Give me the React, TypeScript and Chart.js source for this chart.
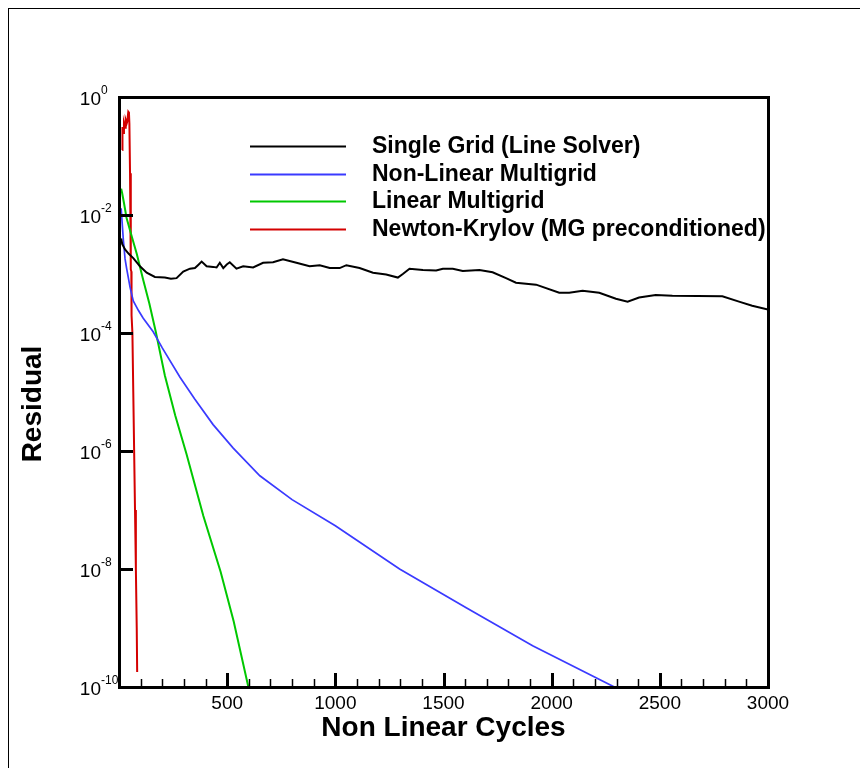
import React, { useEffect, useRef } from 'react';
import { Chart, registerables } from 'chart.js';

Chart.register(...registerables);

// ---------- data ----------
const singleGridIter = [10, 15, 28, 45, 66, 97, 128, 166, 212, 240, 266, 297, 328, 351, 365, 382, 405, 435, 451, 466, 482, 498, 512, 543, 574, 620, 666, 712, 758, 820, 881, 928, 974, 1020, 1051, 1112, 1174, 1235, 1289, 1312, 1343, 1405, 1466, 1497, 1543, 1589, 1666, 1727, 1789, 1835, 1928, 2035, 2081, 2143, 2220, 2297, 2351, 2404, 2481, 2558, 2789, 2866, 2927, 3000];
const singleGridResidual = [4.0e-3, 3.2e-3, 2.6e-3, 2.2e-3, 1.86e-3, 1.35e-3, 1.05e-3, 8.9e-4, 8.7e-4, 8.3e-4, 8.5e-4, 1.1e-3, 1.23e-3, 1.26e-3, 1.41e-3, 1.62e-3, 1.35e-3, 1.32e-3, 1.29e-3, 1.55e-3, 1.26e-3, 1.45e-3, 1.58e-3, 1.23e-3, 1.35e-3, 1.29e-3, 1.55e-3, 1.58e-3, 1.78e-3, 1.55e-3, 1.35e-3, 1.41e-3, 1.26e-3, 1.26e-3, 1.41e-3, 1.26e-3, 1.05e-3, 9.8e-4, 8.7e-4, 1.0e-3, 1.23e-3, 1.17e-3, 1.15e-3, 1.23e-3, 1.23e-3, 1.12e-3, 1.17e-3, 1.07e-3, 8.5e-4, 7.1e-4, 6.6e-4, 4.8e-4, 4.8e-4, 5.2e-4, 4.8e-4, 3.8e-4, 3.4e-4, 4.0e-4, 4.4e-4, 4.3e-4, 4.2e-4, 3.4e-4, 2.9e-4, 2.5e-4];

const nonLinearMGIter = [10, 14, 20, 28, 35, 51, 66, 90, 112, 158, 200, 282, 350, 435, 528, 651, 800, 1000, 1297, 1605, 1912, 2290];
const nonLinearMGResidual = [1.3e-2, 7.9e-3, 3.8e-3, 1.8e-3, 1.26e-3, 6.0e-4, 3.5e-4, 2.4e-4, 1.78e-4, 1.05e-4, 5.6e-5, 1.78e-5, 7.6e-6, 2.8e-6, 1.12e-6, 3.8e-7, 1.5e-7, 5.4e-8, 1.0e-8, 2.2e-9, 5.0e-10, 1.0e-10];

const linearMGIter = [10, 14, 23, 35, 60, 82, 112, 140, 170, 212, 260, 312, 390, 470, 530, 598];
const linearMGResidual = [2.8e-2, 2.4e-2, 1.6e-2, 8.9e-3, 4.2e-3, 2.2e-3, 7.9e-4, 3.2e-4, 1.05e-4, 1.9e-5, 4.0e-6, 8.9e-7, 7.9e-8, 8.9e-9, 1.3e-9, 1.0e-10];

const newtonKrylovIter = [15, 16, 20, 23, 28, 31, 36, 38, 43, 46, 48, 51, 54, 55, 57, 58, 62, 66, 70, 74, 78, 82, 84];
const newtonKrylovResidual = [0.127, 0.31, 0.245, 0.36, 0.30, 0.41, 0.36, 0.38, 0.56, 0.54, 0.36, 0.051, 0.048, 1.2e-3, 1.1e-3, 2e-4, 1e-4, 1e-5, 1e-6, 1e-7, 1e-8, 1e-9, 1.8e-10];

const seriesLabels = ['Single Grid (Line Solver)', 'Non-Linear Multigrid', 'Linear Multigrid', 'Newton-Krylov (MG preconditioned)'];
const seriesColors = ['#000000', '#3a3aff', '#00c800', '#d40000'];
const seriesWidths = [2, 1.7, 2, 2];

const xMajorTicks = [500, 1000, 1500, 2000, 2500, 3000];
const yTickValues = [1, 1e-2, 1e-4, 1e-6, 1e-8, 1e-10];
const xTitle = 'Non Linear Cycles';
const yTitle = 'Residual';

const FONT = '"Liberation Sans", Arial, Helvetica, sans-serif';

const toPoints = (xs: number[], ys: number[]) => xs.map((x, i) => ({ x, y: ys[i] }));

const decorPlugin = {
  id: 'decor',
  afterDatasetsDraw(chart: any) {
    const { ctx, chartArea: a, scales } = chart;
    const xs = scales.x;
    const ys = scales.y;
    ctx.save();
    ctx.strokeStyle = '#000';
    ctx.fillStyle = '#000';
    ctx.lineCap = 'butt';

    // x ticks (inward)
    xs.ticks.forEach((t: any) => {
      if (t.value <= xs.min || t.value >= xs.max) return;
      const px = Math.round(xs.getPixelForValue(t.value));
      const major = xMajorTicks.includes(t.value);
      ctx.lineWidth = major ? 3 : 1.5;
      ctx.beginPath();
      ctx.moveTo(px + 0.5, a.bottom);
      ctx.lineTo(px + 0.5, a.bottom - (major ? 14 : 8));
      ctx.stroke();
    });

    // y ticks (inward) and labels
    ys.ticks.forEach((t: any) => {
      const py = Math.round(ys.getPixelForValue(t.value));
      if (t.value < 1 && t.value > 1.5e-10) {
        ctx.lineWidth = 3;
        ctx.beginPath();
        ctx.moveTo(a.left, py + 0.5);
        ctx.lineTo(a.left + 14, py + 0.5);
        ctx.stroke();
      }
      const exp = Math.round(Math.log10(t.value));
      const baseX = a.left - 18;
      ctx.font = `19px ${FONT}`;
      ctx.textAlign = 'right';
      ctx.textBaseline = 'middle';
      ctx.fillText('10', baseX, py + 3);
      ctx.font = `12px ${FONT}`;
      ctx.textAlign = 'left';
      ctx.fillText(String(exp), baseX, py - 6);
    });

    // frame
    ctx.lineWidth = 3;
    ctx.strokeRect(Math.round(a.left) + 0.5, Math.round(a.top) + 0.5, Math.round(a.right - a.left), Math.round(a.bottom - a.top));

    // axis titles
    ctx.font = `bold 28px ${FONT}`;
    ctx.textAlign = 'center';
    ctx.textBaseline = 'middle';
    ctx.fillText(xTitle, (a.left + a.right) / 2, a.bottom + 41);
    ctx.save();
    ctx.translate(24, (a.top + a.bottom) / 2 + 12);
    ctx.rotate(-Math.PI / 2);
    ctx.fillText(yTitle, 0, 0);
    ctx.restore();

    // legend (inside plot)
    chart.data.datasets.forEach((ds: any, i: number) => {
      const y = Math.round(a.top + 49 + i * 27.7) + 0.5;
      ctx.strokeStyle = ds.borderColor;
      ctx.lineWidth = 2;
      ctx.beginPath();
      ctx.moveTo(a.left + 131, y);
      ctx.lineTo(a.left + 227, y);
      ctx.stroke();
      ctx.fillStyle = '#000';
      ctx.font = `bold 23px ${FONT}`;
      ctx.textAlign = 'left';
      ctx.textBaseline = 'middle';
      ctx.fillText(ds.label, a.left + 253, y);
    });
    ctx.restore();
  },
};

export default function App() {
  const ref = useRef<HTMLCanvasElement | null>(null);

  useEffect(() => {
    if (!ref.current) return;
    const series = [
      toPoints(singleGridIter, singleGridResidual),
      toPoints(nonLinearMGIter, nonLinearMGResidual),
      toPoints(linearMGIter, linearMGResidual),
      toPoints(newtonKrylovIter, newtonKrylovResidual),
    ];
    const chart = new Chart(ref.current, {
      type: 'line',
      data: {
        datasets: series.map((data, i) => ({
          label: seriesLabels[i],
          data,
          borderColor: seriesColors[i],
          backgroundColor: seriesColors[i],
          borderWidth: seriesWidths[i],
          pointRadius: 0,
          tension: 0,
          fill: false,
        })),
      },
      options: {
        responsive: false,
        animation: false,
        events: [],
        layout: { padding: { left: 0, top: 88, right: 92, bottom: 0 } },
        plugins: { legend: { display: false }, tooltip: { enabled: false } },
        scales: {
          x: {
            type: 'linear',
            min: 0,
            max: 3000,
            grid: { display: false, drawTicks: false },
            border: { display: false },
            ticks: {
              stepSize: 100,
              autoSkip: false,
              maxRotation: 0,
              minRotation: 0,
              padding: 5,
              color: '#000',
              font: { family: FONT, size: 19 },
              callback: (v: any) => (xMajorTicks.includes(Number(v)) ? String(v) : ''),
            },
            afterFit: (s: any) => { s.height = 81; },
          },
          y: {
            type: 'logarithmic',
            min: 1e-10,
            max: 1,
            grid: { display: false, drawTicks: false },
            border: { display: false },
            ticks: { display: false },
            afterBuildTicks: (s: any) => { s.ticks = yTickValues.map((value) => ({ value })); },
            afterFit: (s: any) => { s.width = 110; },
          },
        },
      },
      plugins: [decorPlugin],
    } as any);
    return () => chart.destroy();
  }, []);

  return (
    <div
      style={{
        position: 'fixed',
        left: 8,
        top: 8,
        width: 852,
        height: 760,
        borderTop: '1px solid #000',
        borderLeft: '1px solid #000',
        boxSizing: 'border-box',
        background: '#fff',
      }}
    >
      <canvas ref={ref} width={851} height={759} style={{ display: 'block', width: 851, height: 759 }} />
    </div>
  );
}
